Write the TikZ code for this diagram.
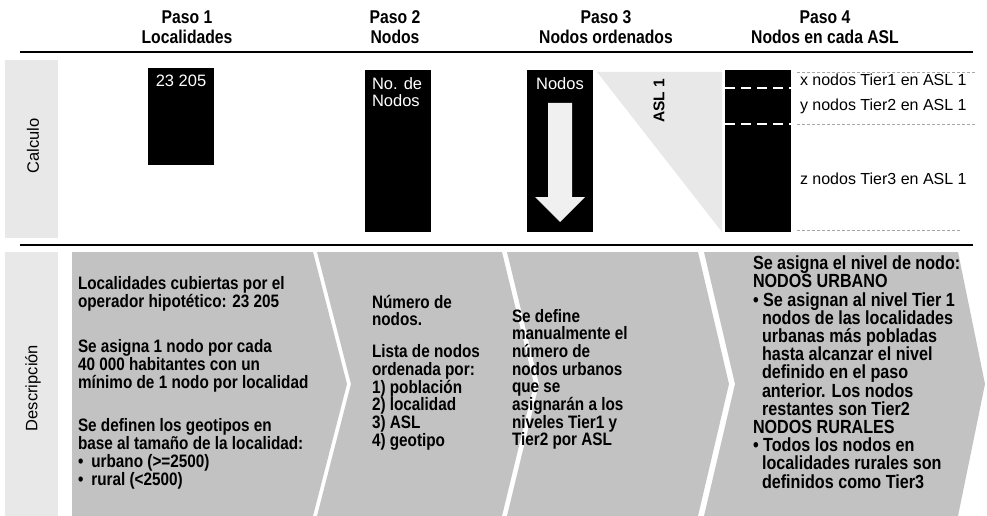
\documentclass[tikz,border=0pt]{standalone}
\usepackage{fontspec}
\setmainfont{Liberation Sans}
\newfontfamily\narrowsf{Liberation Sans}[FakeStretch=0.85]
\usetikzlibrary{positioning}

\begin{document}
\begin{tikzpicture}[
    x=1pt, y=-1pt,
    every node/.style={inner sep=0pt, outer sep=0pt},
    paso/.style={font=\narrowsf\bfseries\fontsize{18.5}{20}\selectfont, align=center},
    sidelabel/.style={font=\fontsize{16.5}{18}\selectfont, rotate=90},
    calcbox/.style={fill=black, anchor=north west, minimum width=66pt},
    boxtext/.style={text=white, font=\fontsize{16.5}{17}\selectfont, align=left},
    tierlabel/.style={font=\fontsize{16}{18}\selectfont, anchor=base west},
    desc/.style={font=\narrowsf\bfseries\fontsize{18}{18}\selectfont, align=left, anchor=north west},
    chevron/.style={fill=black!24},
    sidefill/.style={fill=black!9},
    rule/.style={line width=2pt},
    tierline/.style={white, line width=1.5pt, dash pattern=on 10pt off 6pt},
    guide/.style={black!35, line width=0.6pt, densely dashed}
  ]

  \useasboundingbox (0,0) rectangle (987,516);

  % left column
  \fill[sidefill] (5,60) rectangle (58,238);
  \fill[sidefill] (5,252) rectangle (58,516);
  \node[sidelabel] (calc) at (33,146) {Calculo};
  \node[sidelabel] (descr) at (33,388) {Descripción};

  % headers
  \node[paso] (h1) at (187,27) {Paso 1\\Localidades};
  \node[paso] (h2) at (395,27) {Paso 2\\Nodos};
  \node[paso] (h3) at (606,27) {Paso 3\\Nodos ordenados};
  \node[paso] (h4) at (825,27) {Paso 4\\Nodos en cada ASL};

  \draw[rule] (20,52) -- (973,52);
  \draw[rule] (20,245) -- (973,245);

  % calculo row
  \fill[sidefill] (597,72) -- (722,72) -- (722,232) -- cycle;
  \node[font=\bfseries\fontsize{15.5}{16}\selectfont, rotate=90] (asl) at (659,101) {ASL 1};

  \node[calcbox, minimum height=97pt] (box1) at (148,68) {};
  \node[calcbox, minimum height=162pt] (box2) at (365,70) {};
  \node[calcbox, minimum height=162pt] (box3) at (527,70) {};
  \node[calcbox, minimum height=162pt] (box4) at (725,70) {};

  \node[boxtext, below=7pt of box1.north] (n1) {23 205};
  \node[boxtext, anchor=north west, below right=8pt and 7pt of box2.north west] (n2) {No. de\\Nodos};
  \node[boxtext, below=8pt of box3.north] (n3) {Nodos};
  \fill[black!6] (548,103) -- (572,103) -- (572,197) -- (585,197) -- (560,222)
    -- (535,197) -- (548,197) -- cycle;

  \draw[tierline] (725,88) -- (792,88);
  \draw[tierline] (725,124) -- (792,124);
  \draw[guide] (797,72) -- (975,72);
  \draw[guide] (797,124) -- (975,124);
  \draw[guide] (797,230) -- (960,230);
  \node[tierlabel] (t1) at (800,86) {x nodos Tier1 en ASL 1};
  \node[tierlabel] (t2) at (800,111) {y nodos Tier2 en ASL 1};
  \node[tierlabel] (t3) at (800,184) {z nodos Tier3 en ASL 1};

  % descripcion row
  \fill[chevron] (72,252) -- (313,252) -- (347,384) -- (313,516) -- (72,516) -- cycle;
  \fill[chevron] (317,252) -- (502,252) -- (534,384) -- (502,516) -- (317,516) -- (351,384) -- cycle;
  \fill[chevron] (507,252) -- (698,252) -- (729,384) -- (698,516) -- (507,516) -- (539,384) -- cycle;
  \fill[chevron] (704,252) -- (958,252) -- (985,384) -- (958,516) -- (704,516) -- (735,384) -- cycle;

  \node[desc] (d1) at (78,276) {Localidades cubiertas por el\\operador hipotético: 23 205\\[27pt]
    Se asigna 1 nodo por cada\\40 000 habitantes con un\\mínimo de 1 nodo por localidad\\[25pt]
    Se definen los geotipos en\\base al tamaño de la localidad:\\
    \textbullet\hspace{8pt}urbano (>=2500)\\\textbullet\hspace{8pt}rural (<2500)};
  \node[desc, font=\narrowsf\bfseries\fontsize{18}{17.7}\selectfont] (d2) at (372,295) {Número de\\nodos.\\[14pt]
    Lista de nodos\\ordenada por:\\1) población\\2) localidad\\3) ASL\\4) geotipo};
  \node[desc, font=\narrowsf\bfseries\fontsize{18}{17.7}\selectfont] (d3) at (512,309) {Se define\\manualmente el\\número de\\nodos urbanos\\que se\\asignarán a los\\niveles Tier1 y\\Tier2 por ASL};
  \node[desc, font=\narrowsf\bfseries\fontsize{19}{18.2}\selectfont] (d4) at (753,256) {Se asigna el nivel de nodo:\\NODOS URBANO\\
    \textbullet\ Se asignan al nivel Tier 1\\\hspace{9pt}nodos de las localidades\\\hspace{9pt}urbanas más pobladas\\
    \hspace{9pt}hasta alcanzar el nivel\\\hspace{9pt}definido en el paso\\\hspace{9pt}anterior. Los nodos\\
    \hspace{9pt}restantes son Tier2\\NODOS RURALES\\\textbullet\ Todos los nodos en\\
    \hspace{9pt}localidades rurales son\\\hspace{9pt}definidos como Tier3};

\end{tikzpicture}
\end{document}
